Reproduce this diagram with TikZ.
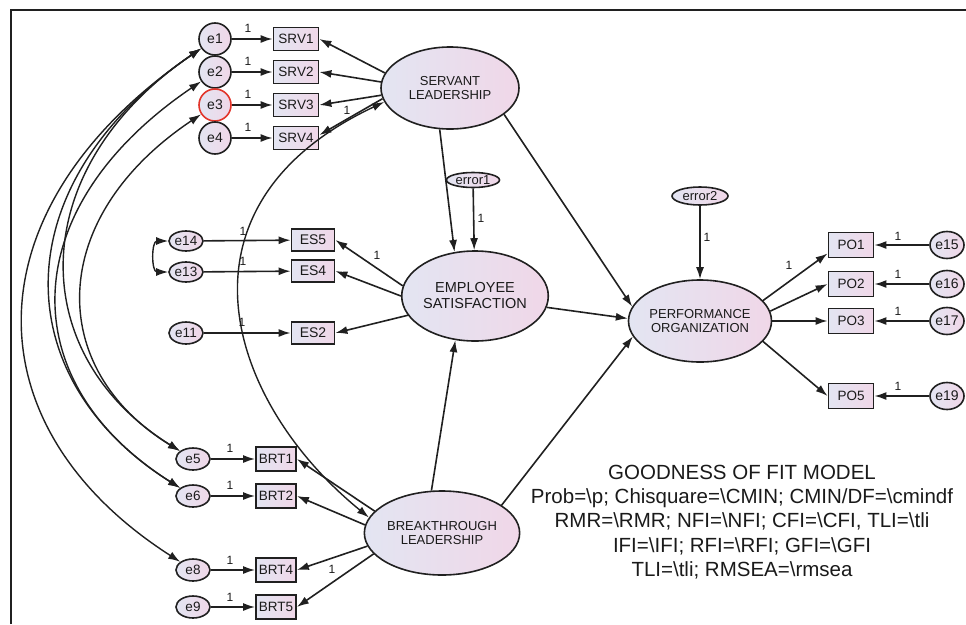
\documentclass[tikz,border=0pt]{standalone}
\usepackage{fontspec}
\setmainfont{Liberation Sans}
\usetikzlibrary{shapes.geometric,arrows.meta}
\definecolor{fillL}{HTML}{E3E5F2}
\definecolor{fillR}{HTML}{F0D7E8}
\definecolor{edgec}{HTML}{202020}
\definecolor{redc}{HTML}{E2352B}
\definecolor{txtc}{HTML}{1A1A1A}
\begin{document}
\begin{tikzpicture}[x=1pt,y=-1pt,
  lat/.style={ellipse, draw=edgec, line width=1.6pt, left color=fillL, right color=fillR, inner sep=0pt, align=center, text=txtc, font=\fontsize{13}{14}\selectfont},
  obs/.style={rectangle, draw=edgec, line width=1.8pt, left color=fillL, right color=fillR, inner sep=0pt, text=txtc, font=\fontsize{13.5}{14}\selectfont},
  errc/.style={circle, draw=edgec, line width=1.6pt, left color=fillL, right color=fillR, inner sep=0pt, minimum size=32pt, text=txtc, font=\fontsize{14}{14}\selectfont},
  erre/.style={ellipse, draw=edgec, line width=1.6pt, left color=fillL, right color=fillR, inner sep=0pt, minimum width=34pt, minimum height=22pt, text=txtc, font=\fontsize{13.5}{14}\selectfont},
  pth/.style={draw=edgec, line width=1.6pt, -{Latex[length=12pt,width=8pt]}},
  cov/.style={draw=edgec, line width=1.4pt, {Latex[length=12pt,width=8pt]}-{Latex[length=12pt,width=8pt]}},
  lblone/.style={inner sep=0pt, text=txtc, font=\fontsize{12}{12}\selectfont}
]
\useasboundingbox (0,0) rectangle (966,624);
\draw[line width=1.2pt, edgec] (11,624) -- (11,10) -- (966,10);

% ---------- Servant leadership block
\node[errc] (e1) at (215,39) {e1};
\node[errc] (e2) at (215,72) {e2};
\node[errc, draw=redc] (e3) at (215,105) {e3};
\node[errc] (e4) at (215,138) {e4};
\node[obs, minimum width=45pt, minimum height=23pt] (SRV1) at (296,39) {SRV1};
\node[obs, minimum width=45pt, minimum height=23pt] (SRV2) at (296,72) {SRV2};
\node[obs, minimum width=45pt, minimum height=23pt] (SRV3) at (296,105) {SRV3};
\node[obs, minimum width=45pt, minimum height=23pt] (SRV4) at (296,138) {SRV4};
\node[lat, minimum width=138pt, minimum height=82pt] (SL) at (450,88) {SERVANT\\LEADERSHIP};

% ---------- Employee satisfaction block
\node[erre, minimum width=53pt, minimum height=15pt, font=\fontsize{13}{13}\selectfont] (error1) at (473,180) {error1};
\node[lat, minimum width=146pt, minimum height=90pt, font=\fontsize{14.5}{16}\selectfont] (ES) at (475,296) {EMPLOYEE\\SATISFACTION};
\node[obs, minimum width=43pt, minimum height=22pt, font=\fontsize{14}{14}\selectfont] (ES5) at (313,240) {ES5};
\node[obs, minimum width=43pt, minimum height=22pt, font=\fontsize{14}{14}\selectfont] (ES4) at (313,271) {ES4};
\node[obs, minimum width=43pt, minimum height=22pt, font=\fontsize{14}{14}\selectfont] (ES2) at (313,333) {ES2};
\node[erre, minimum height=20pt] (e14) at (186,241) {e14};
\node[erre, minimum height=20pt] (e13) at (186,272) {e13};
\node[erre] (e11) at (186,333) {e11};

% ---------- Performance organization block
\node[erre, minimum width=56pt, minimum height=18pt, font=\fontsize{13}{13}\selectfont] (error2) at (700,196) {error2};
\node[lat, minimum width=142pt, minimum height=82pt] (PO) at (700,321) {PERFORMANCE\\ORGANIZATION};
\node[obs, minimum width=45pt, minimum height=25pt] (PO1) at (851,245) {PO1};
\node[obs, minimum width=45pt, minimum height=25pt] (PO2) at (851,284) {PO2};
\node[obs, minimum width=45pt, minimum height=25pt] (PO3) at (851,321) {PO3};
\node[obs, minimum width=45pt, minimum height=25pt] (PO5) at (851,396) {PO5};
\node[erre, minimum height=27pt, font=\fontsize{14}{14}\selectfont] (e15) at (947,245) {e15};
\node[erre, minimum height=27pt, font=\fontsize{14}{14}\selectfont] (e16) at (947,284) {e16};
\node[erre, minimum height=27pt, font=\fontsize{14}{14}\selectfont] (e17) at (947,321) {e17};
\node[erre, minimum height=27pt, font=\fontsize{14}{14}\selectfont] (e19) at (947,396) {e19};

% ---------- Breakthrough leadership block
\node[lat, minimum width=142pt, minimum height=84pt] (BL) at (442,533) {BREAKTHROUGH\\LEADERSHIP};
\node[erre] (e5) at (193,459) {e5};
\node[erre] (e6) at (193,496) {e6};
\node[erre] (e8) at (193,570) {e8};
\node[erre] (e9) at (193,607) {e9};
\node[obs, minimum width=40pt, minimum height=24pt] (BRT1) at (276,459) {BRT1};
\node[obs, minimum width=40pt, minimum height=24pt] (BRT2) at (276,496) {BRT2};
\node[obs, minimum width=40pt, minimum height=24pt] (BRT4) at (276,570) {BRT4};
\node[obs, minimum width=40pt, minimum height=24pt] (BRT5) at (276,607) {BRT5};

% ---------- measurement paths
\foreach \i in {1,2,3,4} { \draw[pth] (e\i) -- (SRV\i); }
\draw[pth] (SL.167) -- (SRV1.east);
\draw[pth] (SL.175) -- (SRV2.east);
\draw[pth] (SL.186) -- (SRV3.east);
\draw[pth] (SL.189) -- ([yshift=3pt]SRV4.east);

\draw[pth] (e14) -- (ES5);
\draw[pth] (e13) -- (ES4);
\draw[pth] (e11) -- (ES2);
\draw[pth] (ES.172) -- (ES5.east);
\draw[pth] (ES.180) -- (ES4.east);
\draw[pth] (ES.196) -- (ES2.east);

\draw[pth] (PO.18) -- ([yshift=5pt]PO1.south west);
\draw[pth] (PO.8) -- (PO2.west);
\draw[pth] (PO.0) -- (PO3.west);
\draw[pth] (PO.342) -- (PO5.west);
\draw[pth] (e15) -- (PO1);
\draw[pth] (e16) -- (PO2);
\draw[pth] (e17) -- (PO3);
\draw[pth] (e19) -- (PO5);

\draw[pth] (e5) -- (BRT1);
\draw[pth] (e6) -- (BRT2);
\draw[pth] (e8) -- (BRT4);
\draw[pth] (e9) -- (BRT5);
\draw[pth] (BL.162) -- (BRT1.east);
\draw[pth] (BL.174) -- (BRT2.east);
\draw[pth] (BL.190) -- (BRT4.east);
\draw[pth] (BL.197) -- (BRT5.east);

% ---------- structural paths
\draw[pth] (SL.256) -- (ES.115);
\draw[pth] (error1) -- (ES);
\draw[pth] (SL.334) -- (PO.168);
\draw[pth] (ES.351) -- (PO.178);
\draw[pth] (BL.25) -- (PO.193);
\draw[pth] (BL.104) -- (ES.246);
\draw[pth] (error2) -- (PO);

% ---------- covariances
\draw[cov] (SL.192) .. controls (165,205) and (225,400) .. (BL.168);
\draw[cov] (e14.west) to[out=180, in=180, looseness=1.4] (e13.west);
\draw[cov] (e1) .. controls (-32,208) and (-32,426) .. (e8);
\draw[cov] (e1) .. controls (4,183) and (4,377) .. (e6);
\draw[cov] (e2) .. controls (13,209) and (13,383) .. (e6);
\draw[cov] (e1) .. controls (24,169) and (24,354) .. (e5);
\draw[cov] (e3) .. controls (46,218) and (46,369) .. (e5);

% ---------- labels "1"
\node[lblone] (l1) at (248,28) {1};
\node[lblone] (l2) at (248,61) {1};
\node[lblone] (l3) at (248,94) {1};
\node[lblone] (l4) at (248,127) {1};
\node[lblone] (lsl) at (347,110) {1};
\node[lblone] (l14) at (243,231) {1};
\node[lblone] (l13) at (243,261) {1};
\node[lblone] (l11) at (242,322) {1};
\node[lblone] (les) at (377,255) {1};
\node[lblone] (ler1) at (481,218) {1};
\node[lblone] (ler2) at (707,237) {1};
\node[lblone] (lpo) at (789,265) {1};
\node[lblone] (l15) at (898,236) {1};
\node[lblone] (l16) at (898,274) {1};
\node[lblone] (l17) at (898,311) {1};
\node[lblone] (l19) at (898,386) {1};
\node[lblone] (l5) at (230,448) {1};
\node[lblone] (l6) at (230,485) {1};
\node[lblone] (l8) at (230,560) {1};
\node[lblone] (l9) at (230,597) {1};
\node[lblone] (lbl) at (332,569) {1};

% ---------- goodness of fit
\node[align=center, inner sep=0pt, text=txtc, font=\fontsize{20.5}{24.3}\selectfont] (gof) at (742,522)
 {GOODNESS OF FIT MODEL\\
  Prob=\textbackslash p; Chisquare=\textbackslash CMIN; CMIN/DF=\textbackslash cmindf\\
  RMR=\textbackslash RMR; NFI=\textbackslash NFI; CFI=\textbackslash CFI, TLI=\textbackslash tli\\
  IFI=\textbackslash IFI; RFI=\textbackslash RFI; GFI=\textbackslash GFI\\
  TLI=\textbackslash tli; RMSEA=\textbackslash rmsea};
\end{tikzpicture}
\end{document}
